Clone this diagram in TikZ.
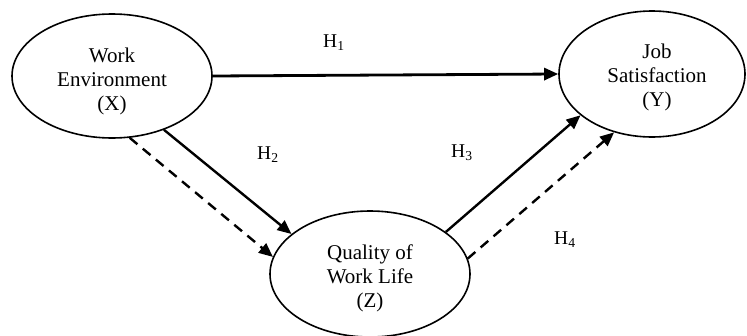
\documentclass[tikz,border=0pt]{standalone}
\usepackage{fontspec}
\setmainfont{Liberation Serif}
\usetikzlibrary{shapes.geometric,arrows.meta}

\tikzset{
  construct/.style={ellipse, draw, line width=1.6pt, inner sep=0pt},
  caption/.style={align=center, inner sep=0pt, font=\fontsize{21}{24}\selectfont},
  path/.style={line width=2.4pt, -{Triangle[length=14pt,width=12pt]}},
  mediated/.style={path, dash pattern=on 10pt off 7pt},
  hyp/.style={inner sep=0pt, anchor=base west, font=\fontsize{19.5}{22}\selectfont}
}

\begin{document}
\begin{tikzpicture}[x=1pt,y=-1pt]
  \useasboundingbox (0,0) rectangle (747,335);

  % latent constructs
  \node[construct, minimum width=200pt, minimum height=124pt] (X) at (112,76) {};
  \node[construct, minimum width=186pt, minimum height=126pt] (Y) at (652,74) {};
  \node[construct, minimum width=200pt, minimum height=126pt] (Z) at (370,274) {};

  \node[caption] (Xt) at ([yshift=-5pt]X.center) {Work\\Environment\\(X)};
  \node[caption] (Yt) at ([xshift=5pt,yshift=-3pt]Y.center) {Job\\Satisfaction\\(Y)};
  \node[caption] (Zt) at ([yshift=-4pt]Z.center) {Quality of\\Work Life\\(Z)};

  % direct effects
  \draw[path, line width=2.8pt] (X.east) -- (Y.west);
  \draw[path] (X.-46.6) -- (Z.153.4);
  \draw[path] (Z.29.8) -- (Y.210.7);

  % indirect effect through Z
  \draw[mediated] (X.-74) -- (Z.170);
  \draw[mediated] (Z.9.4) -- (Y.237.9);

  % hypothesis labels
  \node[hyp] (h1) at (323,47) {H\textsubscript{1}};
  \node[hyp] (h2) at (257,159) {H\textsubscript{2}};
  \node[hyp] (h3) at (451,157) {H\textsubscript{3}};
  \node[hyp] (h4) at (554,244) {H\textsubscript{4}};
\end{tikzpicture}
\end{document}
